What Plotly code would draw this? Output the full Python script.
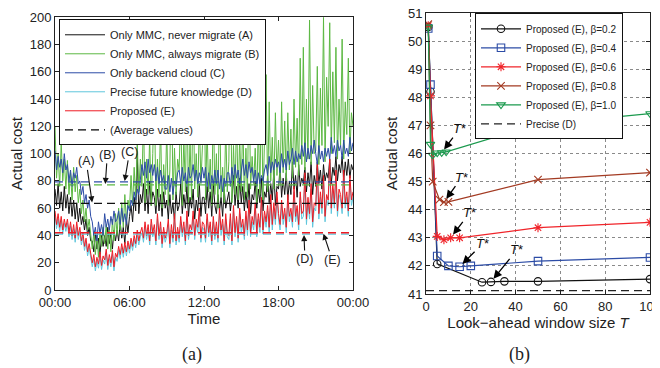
import plotly.graph_objects as go

# ---------------- left panel data (7.5-minute samples, 00:00 .. 24:00) ----------------
SAMPLE_HOURS = 0.125
cost_A = [74, 62, 78, 60, 72, 58, 76, 60,  70, 56, 68, 54, 66, 52, 64, 50,
          60, 48, 54, 44, 52, 40, 46, 36,  36, 28, 42, 30, 38, 26, 40, 32,
          40, 32, 46, 34, 42, 30, 44, 36,  44, 36, 50, 38, 46, 34, 52, 42,
          54, 62, 50, 68, 58, 100, 56, 70, 64, 78, 58, 74, 56, 80, 62, 72,
          68, 56, 74, 58, 70, 54, 72, 60,  66, 52, 70, 56, 64, 50, 72, 58,
          62, 78, 56, 70, 60, 76, 54, 68,  60, 74, 52, 66, 58, 78, 54, 68,
          68, 56, 76, 60, 72, 54, 78, 62,  56, 70, 58, 68, 54, 74, 60, 66,
          72, 58, 68, 84, 62, 76, 60, 82,  64, 76, 58, 72, 60, 78, 56, 70,
          66, 80, 60, 74, 64, 82, 58, 72,  68, 84, 64, 78, 66, 88, 62, 76,
          74, 90, 68, 82, 70, 86, 66, 80,  70, 94, 74, 84, 68, 92, 76, 82,
          78, 90, 72, 86, 76, 94, 70, 84,  76, 94, 78, 88, 74, 92, 80, 86,
          82, 96, 78, 90, 84, 98, 80, 92,  86, 98, 80, 94, 84, 96, 82, 92,
          88]
cost_B = [120, 82, 100, 76, 108, 80, 96, 74,  95, 70, 86, 66, 90, 72, 84, 64,
          74, 56, 66, 50, 60, 44, 52, 38,  30, 42, 26, 40, 24, 44, 32, 46,
          34, 48, 30, 44, 28, 52, 36, 56,  40, 60, 44, 64, 46, 70, 50, 66,
          60, 84, 62, 90, 66, 108, 72, 96,  76, 128, 64, 96, 70, 112, 62, 100,
          148, 62, 96, 68, 124, 60, 92, 70,  118, 62, 88, 172, 66, 104, 70, 96,
          88, 138, 62, 112, 72, 150, 64, 110,  66, 158, 74, 100, 68, 128, 78, 106,
          184, 66, 118, 72, 96, 62, 140, 70,  100, 60, 148, 68, 90, 64, 120, 72,
          94, 178, 64, 106, 70, 130, 66, 112,  72, 128, 66, 104, 68, 166, 74, 98,
          78, 104, 64, 124, 70, 150, 66, 110,  158, 72, 138, 80, 112, 74, 130, 84,
          110, 78, 138, 86, 124, 80, 130, 88,  118, 82, 140, 90, 126, 84, 170, 92,
          178, 88, 140, 96, 198, 92, 150, 100,  102, 164, 92, 148, 106, 200, 94, 156,
          120, 196, 100, 160, 108, 178, 96, 140,  106, 184, 96, 138, 114, 170, 100, 130,
          120]
cost_C = [102, 88, 98, 90, 96, 86, 100, 88,  92, 80, 88, 76, 86, 82, 90, 78,
          80, 70, 76, 64, 70, 60, 66, 54,  50, 40, 46, 36, 50, 42, 48, 40,
          56, 46, 52, 44, 54, 48, 58, 50,  52, 58, 48, 60, 50, 56, 48, 62,
          58, 66, 62, 72, 66, 74, 70, 80,  92, 84, 94, 82, 96, 86, 92, 84,
          92, 80, 90, 78, 88, 80, 84, 74,  74, 84, 72, 82, 70, 80, 76, 86,
          88, 78, 90, 80, 86, 76, 90, 82,  84, 92, 80, 88, 78, 86, 80, 90,
          82, 90, 76, 86, 74, 84, 78, 88,  78, 88, 74, 84, 72, 82, 76, 86,
          86, 76, 90, 80, 92, 82, 88, 78,  88, 96, 84, 92, 82, 94, 86, 90,
          80, 88, 76, 86, 78, 84, 80, 88,  92, 84, 98, 86, 94, 88, 96, 90,
          94, 86, 100, 90, 96, 88, 102, 92,  96, 104, 92, 102, 94, 100, 96, 106,
          98, 108, 94, 104, 96, 106, 100, 110,  100, 92, 106, 96, 102, 94, 104, 98,
          104, 96, 112, 100, 106, 98, 110, 102,  106, 96, 110, 100, 104, 98, 112, 102,
          108]
cost_D = [55, 45, 52, 43, 51, 41, 49, 43,  49, 39, 47, 37, 45, 35, 46, 37,
          43, 33, 39, 29, 35, 25, 31, 23,  17, 23, 14, 21, 16, 25, 15, 22,
          19, 27, 15, 23, 17, 26, 14, 24,  21, 29, 23, 31, 24, 32, 25, 33,
          27, 35, 29, 37, 31, 40, 33, 39,  42, 35, 46, 37, 44, 33, 48, 39,
          44, 33, 52, 37, 46, 31, 42, 35,  39, 48, 31, 44, 35, 52, 33, 42,
          35, 50, 39, 46, 33, 54, 37, 44,  41, 54, 37, 48, 42, 56, 35, 46,
          44, 35, 52, 39, 46, 33, 50, 37,  46, 35, 56, 40, 48, 33, 52, 39,
          37, 52, 33, 58, 39, 50, 35, 56,  42, 48, 37, 54, 40, 62, 39, 50,
          44, 60, 39, 52, 42, 64, 41, 54,  46, 58, 42, 66, 44, 60, 48, 68,
          52, 44, 62, 48, 56, 42, 66, 50,  56, 46, 72, 50, 58, 44, 68, 52,
          54, 82, 48, 64, 52, 74, 46, 60,  58, 88, 52, 68, 56, 80, 50, 66,
          62, 92, 56, 74, 60, 84, 54, 70,  66, 56, 84, 60, 68, 54, 80, 62,
          68]
cost_E = [58, 48, 56, 46, 54, 44, 52, 46,  52, 42, 50, 40, 48, 38, 50, 40,
          46, 36, 42, 32, 38, 28, 34, 26,  20, 26, 17, 24, 19, 28, 18, 25,
          22, 30, 18, 26, 20, 29, 17, 27,  24, 32, 26, 34, 27, 35, 28, 36,
          30, 38, 32, 40, 34, 44, 36, 42,  46, 38, 50, 40, 48, 36, 52, 42,
          48, 36, 56, 40, 50, 34, 46, 38,  42, 52, 34, 48, 38, 56, 36, 46,
          38, 54, 42, 50, 36, 58, 40, 48,  44, 58, 40, 52, 46, 60, 38, 50,
          48, 38, 56, 42, 50, 36, 54, 40,  50, 38, 60, 44, 52, 36, 56, 42,
          40, 56, 36, 62, 42, 54, 38, 60,  46, 52, 40, 58, 44, 66, 42, 54,
          48, 64, 42, 56, 46, 68, 44, 58,  50, 62, 46, 70, 48, 64, 52, 72,
          56, 48, 66, 52, 60, 46, 70, 54,  60, 50, 76, 54, 62, 48, 72, 56,
          58, 86, 52, 68, 56, 78, 50, 64,  62, 92, 56, 72, 60, 84, 54, 70,
          66, 96, 60, 78, 64, 88, 58, 74,  70, 60, 88, 64, 72, 58, 84, 66,
          72]
avg_values = {"A": 63.5, "B": 77.1, "C": 79.3, "D": 41.0, "E": 42.0}
time_ticks = [0, 6, 12, 18, 24]
time_labels = ["00:00", "06:00", "12:00", "18:00", "00:00"]
day_range = [0, 24]

# ---------------- right panel data ----------------
T_b02 = [1, 2, 5, 25, 29, 35, 50, 100]
C_b02 = [50.5, 48.2, 42.07, 41.42, 41.43, 41.45, 41.45, 41.53]
T_b04 = [1, 2, 5, 10, 15, 20, 50, 100]
C_b04 = [50.45, 48.45, 42.35, 42.0, 41.97, 42.0, 42.17, 42.3]
T_b06 = [1, 2, 5, 8, 11, 15, 50, 100]
C_b06 = [50.55, 48.05, 43.05, 42.93, 43.0, 43.0, 43.36, 43.55]
T_b08 = [1, 2, 3, 6, 8, 10, 50, 100]
C_b08 = [50.6, 47.0, 45.0, 44.36, 44.27, 44.28, 45.07, 45.32]
T_b10 = [1, 2, 3, 5, 7, 9, 50, 100]
C_b10 = [50.5, 46.33, 45.94, 46.02, 46.03, 46.06, 47.04, 47.42]
T_star_index = {"b02": 4, "b04": 4, "b06": 4, "b08": 4, "b10": 4}
precise_D = 41.12
T_range = [0, 100]

time_h = [i * SAMPLE_HOURS for i in range(len(cost_A))]

# ---------------- geometry helpers ----------------
# the page body adds an 8 px offset, so the figure is 8 px smaller than the window
OFF = 8
W, H = 660 - OFF, 368 - OFF
ML, MR, MT, MB = 55 - OFF, 10, 12.7 - OFF, 74
PW, PH = W - ML - MR, H - MT - MB


def px_x(px):
    """reference-window pixel x -> paper coordinate"""
    return (px - OFF - ML) / PW


def px_y(py):
    """reference-window pixel y -> paper coordinate"""
    return (H - MB - (py - OFF)) / PH


def dom(a, b):
    return [max(0.0, min(1.0, a)), max(0.0, min(1.0, b))]


FONT = "Liberation Sans, Arial, sans-serif"
fig = go.Figure()

left_series = [
    ("Only MMC, never migrate (A)", cost_A, "#111111", "A"),
    ("Only MMC, always migrate (B)", cost_B, "#5cb843", "B"),
    ("Only backend cloud (C)", cost_C, "#2c4ca6", "C"),
    ("Precise future knowledge (D)", cost_D, "#5fc6dc", "D"),
    ("Proposed (E)", cost_E, "#ee1b24", "E"),
]
for name, ys, col, key in left_series:
    fig.add_trace(go.Scatter(x=time_h, y=ys, mode="lines", name=name,
                             line=dict(color=col, width=1.0),
                             xaxis="x", yaxis="y", legend="legend"))
for name, ys, col, key in left_series:
    fig.add_trace(go.Scatter(x=day_range, y=[avg_values[key]] * 2, mode="lines",
                             line=dict(color=col, width=1.3, dash="8px,5px"),
                             showlegend=False, hoverinfo="skip",
                             xaxis="x", yaxis="y"))
fig.add_trace(go.Scatter(x=[None], y=[None], mode="lines", name="(Average values)",
                         line=dict(color="black", width=1.3, dash="8px,5px"),
                         xaxis="x", yaxis="y", legend="legend"))

right_series = [
    ("Proposed (E), β=0.2", T_b02, C_b02, "#111111", "circle-open", "b02"),
    ("Proposed (E), β=0.4", T_b04, C_b04, "#2c4ca6", "square-open", "b04"),
    ("Proposed (E), β=0.6", T_b06, C_b06, "#f0242a", "asterisk-open", "b06"),
    ("Proposed (E), β=0.8", T_b08, C_b08, "#a33a22", "x-thin-open", "b08"),
    ("Proposed (E), β=1.0", T_b10, C_b10, "#1b9a4e", "triangle-down-open", "b10"),
]
for name, xs, ys, col, sym, key in right_series:
    fig.add_trace(go.Scatter(x=xs, y=ys, mode="lines+markers", name=name,
                             line=dict(color=col, width=1.2),
                             marker=dict(symbol=sym, size=7.5, color=col,
                                         line=dict(color=col, width=1.1)),
                             xaxis="x2", yaxis="y2", legend="legend2"))
fig.add_trace(go.Scatter(x=T_range, y=[precise_D] * 2, mode="lines", name="Precise (D)",
                         line=dict(color="#222222", width=1.3, dash="8px,5px"),
                         xaxis="x2", yaxis="y2", legend="legend2"))

# T* arrows
star_offsets = {"b02": (26, -32), "b04": (23, -23), "b06": (19, -25),
                "b08": (18, -25), "b10": (18, -24)}
annotations = []
for name, xs, ys, col, sym, key in right_series:
    i = T_star_index[key]
    dx, dy = star_offsets[key]
    annotations.append(dict(x=xs[i], y=ys[i], xref="x2", yref="y2",
                            text="<i>T</i>*", showarrow=True, ax=dx, ay=dy,
                            arrowhead=2, arrowsize=1.3, arrowwidth=1.3,
                            arrowcolor="black", standoff=4,
                            font=dict(family=FONT, size=13, color="#111")))

# left labels (A)-(E) pointing at the average lines
lab_pos = {"A": (3.0, -6, -42), "B": (4.05, 2, -30), "C": (5.6, 5, -30),
           "D": (20.05, 1, 25), "E": (21.6, 9, 27)}
for key, (xh, dx, dy) in lab_pos.items():
    annotations.append(dict(x=xh, y=avg_values[key], xref="x", yref="y",
                            text="(%s)" % key, showarrow=True, ax=dx, ay=dy,
                            arrowhead=2, arrowsize=1.1, arrowwidth=1.1,
                            arrowcolor="#111", standoff=1,
                            font=dict(family=FONT, size=12.5, color="#222")))

annotations.append(dict(x=px_x(180), y=px_y(355), xref="paper", yref="paper",
                        text="(a)", showarrow=False, yanchor="middle",
                        font=dict(family="Liberation Serif, serif", size=18, color="#222")))
annotations.append(dict(x=px_x(532), y=px_y(355), xref="paper", yref="paper",
                        text="(b)", showarrow=False, yanchor="middle",
                        font=dict(family="Liberation Serif, serif", size=18, color="#222")))

axis_common = dict(showline=True, linecolor="#222", linewidth=1, mirror="ticks",
                   ticks="inside", ticklen=4, tickcolor="#222", automargin=False,
                   ticklabeloverflow="allow",
                   tickfont=dict(family=FONT, size=13, color="#222"),
                   zeroline=False)
TITLE_FONT = dict(family=FONT, size=15, color="#222")

fig.update_layout(
    width=W, height=H,
    margin=dict(l=ML, r=MR, t=MT, b=MB),
    paper_bgcolor="white", plot_bgcolor="white",
    font=dict(family=FONT, color="#222"),
    showlegend=True,
    xaxis=dict(domain=dom(px_x(55), px_x(353)), range=day_range, tickvals=time_ticks,
               ticktext=time_labels, showgrid=False,
               title=dict(text="Time", font=TITLE_FONT, standoff=2),
               anchor="y", **axis_common),
    yaxis=dict(domain=dom(px_y(290), px_y(17)), range=[0, 200], dtick=20, showgrid=False,
               title=dict(text="Actual cost", font=TITLE_FONT, standoff=6),
               anchor="x", **axis_common),
    xaxis2=dict(domain=dom(px_x(426), px_x(650)), range=T_range, dtick=20,
                showgrid=True, gridcolor="#8a8a8a", griddash="dot", gridwidth=1,
                title=dict(text="Look−ahead window size <i>T</i>", font=TITLE_FONT, standoff=2),
                anchor="y2", **axis_common),
    yaxis2=dict(domain=dom(px_y(294), px_y(12.7)), range=[41, 51], dtick=1,
                showgrid=True, gridcolor="#8a8a8a", griddash="dot", gridwidth=1,
                title=dict(text="Actual cost", font=TITLE_FONT, standoff=6),
                anchor="x2", **axis_common),
    legend=dict(x=px_x(59), y=px_y(19), xanchor="left", yanchor="top",
                bgcolor="white", bordercolor="#111", borderwidth=1,
                font=dict(family=FONT, size=11, color="#222"),
                tracegroupgap=0, itemwidth=40),
    legend2=dict(x=px_x(475), y=px_y(13), xanchor="left", yanchor="top",
                 bgcolor="white", bordercolor="#111", borderwidth=1,
                 font=dict(family=FONT, size=10, color="#222"),
                 tracegroupgap=0, itemwidth=40),
    annotations=annotations,
)

fig.write_html("out.html")
